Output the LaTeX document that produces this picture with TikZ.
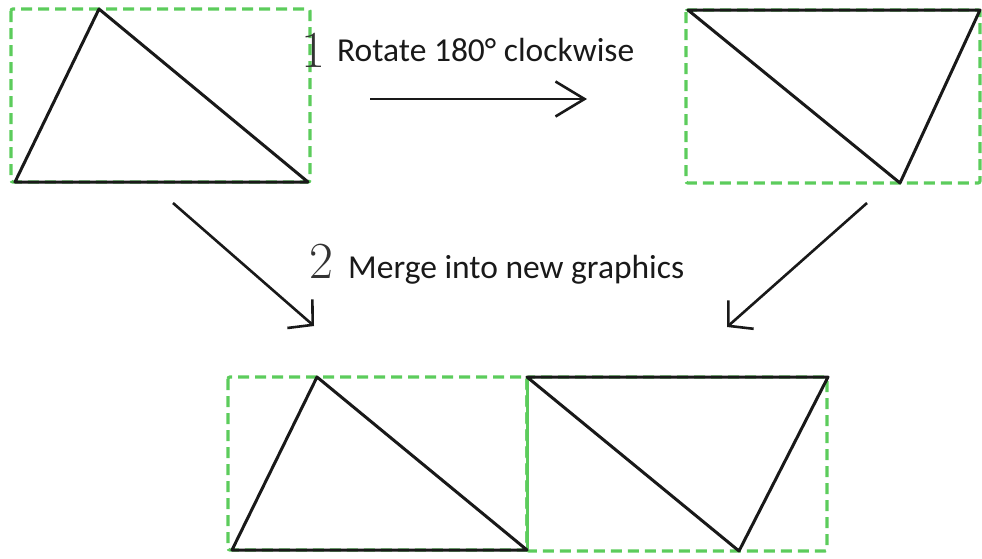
\documentclass[tikz,border=0pt]{standalone}
\usepackage{fontspec}
\newfontfamily\calibri{Carlito}
\usetikzlibrary{arrows.meta}
\definecolor{boxgreen}{RGB}{92,204,92}
\begin{document}
\begin{tikzpicture}[x=1pt,y=-1pt,
  tri/.style={draw=black!90, line width=3pt, line join=round},
  bbox/.style={draw=boxgreen, line width=3.2pt, dash pattern=on 11pt off 6pt, rounded corners=2pt},
  solidgreen/.style={draw=boxgreen, line width=3pt},
  hconn/.style={draw=black!90, line width=2.6pt, -{Straight Barb[length=29pt,width=35pt,line width=2.6pt]}},
  dconn/.style={draw=black!90, line width=2.6pt, -{Straight Barb[length=17pt,width=38pt,line width=2.6pt]}},
  lbl/.style={anchor=base west, inner sep=0pt, font=\calibri\fontsize{33.5}{40}\selectfont, text=black!90},
  num/.style={anchor=base, inner sep=0pt, font=\fontsize{52}{60}\selectfont, text=black!80}
]
\useasboundingbox (0,0) rectangle (982,558);

% top-left figure
\draw[bbox] (11,9) rectangle (310,182);
\draw[tri] (15,182) -- (99,9) -- (308,182) -- cycle;

% top-right figure
\draw[bbox] (686,10) rectangle (980,183);
\draw[tri] (688,10) -- (980,10) -- (900,183) -- cycle;

% bottom merged figure
\draw[bbox] (228,377) rectangle (527,550);
\draw[bbox] (527,377) rectangle (827,551);
\draw[solidgreen] (527,377) -- (527,550);
\draw[tri] (232,550) -- (317,377) -- (527,550) -- cycle;
\draw[tri] (527,377) -- (828,377) -- (739,551) -- cycle;

% labels
\node[num] (n1) at (313.5,67) {1};
\node[lbl] (t1) at (337,61) {Rotate 180° clockwise};
\node[num] (n2) at (321,278) {2};
\node[lbl] (t2) at (348,278) {Merge into new graphics};

% connectors
\coordinate (a1s) at (370,99);
\coordinate (a1e) at (587,99);
\draw[hconn] (a1s) -- (a1e);

\coordinate (a2s) at (173,203);
\coordinate (a2e) at (314,326);
\draw[dconn] (a2s) -- (a2e);

\coordinate (a3s) at (867,203);
\coordinate (a3e) at (727,327);
\draw[dconn] (a3s) -- (a3e);
\end{tikzpicture}
\end{document}
